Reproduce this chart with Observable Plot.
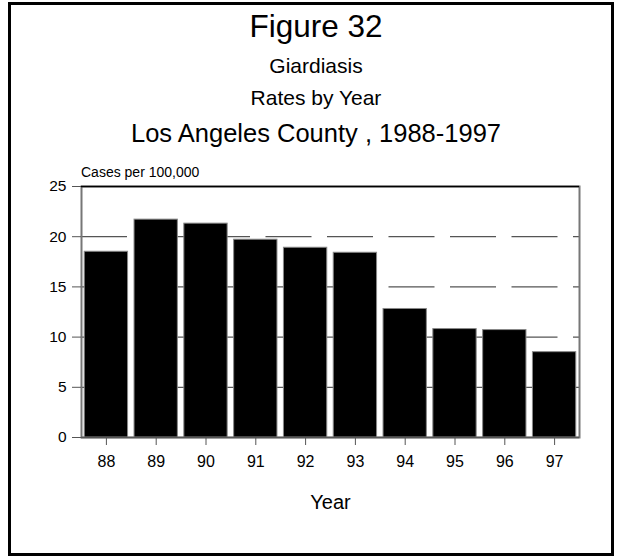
<!DOCTYPE html>
<html>
<head>
<meta charset="utf-8">
<script src="https://cdn.jsdelivr.net/npm/d3@7"></script>
<script src="https://cdn.jsdelivr.net/npm/@observablehq/plot@0.6"></script>
<style>
  html, body { margin: 0; padding: 0; background: #fff; }
  #wrap { position: relative; width: 621px; height: 559px; overflow: hidden; font-family: "Liberation Sans", Arial, Helvetica, sans-serif; color: #000; }
  #border { position: absolute; left: 8px; top: 2px; width: 606px; height: 554px; border: 3px solid #000; box-sizing: border-box; }
  .t { position: absolute; left: 0; width: 632px; text-align: center; line-height: 1; white-space: nowrap; }
  #ylab { position: absolute; left: 81px; font-size: 14px; line-height: 1; }
  #chart { position: absolute; left: 0; top: 160px; }
  #chart svg g[aria-label="x-axis label"] text { font-size: 20px; }
</style>
</head>
<body>
<div id="wrap">
  <div id="border"></div>
  <div class="t" id="t1" style="top:11px;font-size:31.5px;">Figure 32</div>
  <div class="t" id="t2" style="top:55px;font-size:21px;">Giardiasis</div>
  <div class="t" id="t3" style="top:87px;font-size:21px;">Rates by Year</div>
  <div class="t" id="t4" style="top:121px;font-size:25.5px;">Los Angeles County , 1988-1997</div>
  <div id="ylab" style="top:165px;">Cases per 100,000</div>
  <div id="chart"></div>
</div>
<script>
const years = ["88", "89", "90", "91", "92", "93", "94", "95", "96", "97"];
const rates = [18.5, 21.7, 21.3, 19.7, 18.9, 18.4, 12.8, 10.8, 10.7, 8.5];
const yTicks = [0, 5, 10, 15, 20, 25];
const gridValues = [5, 10, 15, 20];

const data = years.map((y, i) => ({year: y, rate: rates[i]}));

const chart = Plot.plot({
  width: 621,
  height: 351,
  marginLeft: 81,
  marginRight: 42,
  marginTop: 26,
  marginBottom: 74,
  style: {fontFamily: '"Liberation Sans", Arial, Helvetica, sans-serif', fontSize: "15px", color: "#000", background: "transparent", overflow: "visible"},
  x: {domain: years, paddingInner: 0.13, paddingOuter: 0.065, round: false, label: "Year"},
  y: {domain: [0, 25], ticks: yTicks, label: null},
  marks: [
    Plot.ruleY(gridValues, {stroke: "#555", strokeWidth: 1.3, strokeDasharray: "46,15.5"}),
    Plot.frame({stroke: "#777", strokeWidth: 2}),
    Plot.ruleY([25], {stroke: "#000", strokeWidth: 1.5}),
    Plot.barY(data, {x: "year", y: "rate", fill: "#000", stroke: "#888", strokeWidth: 1}),
    Plot.ruleY([0], {stroke: "#555", strokeWidth: 1.5}),
    Plot.axisY({ticks: yTicks, tickSize: 9, tickPadding: 6, stroke: "#555", fontSize: 15.5, label: null}),
    Plot.axisX({tickSize: 8, tickPadding: 10, stroke: "#555", fontSize: 16, label: "Year", labelAnchor: "center", labelArrow: "none"})
  ]
});
document.getElementById("chart").appendChild(chart);
</script>
</body>
</html>
